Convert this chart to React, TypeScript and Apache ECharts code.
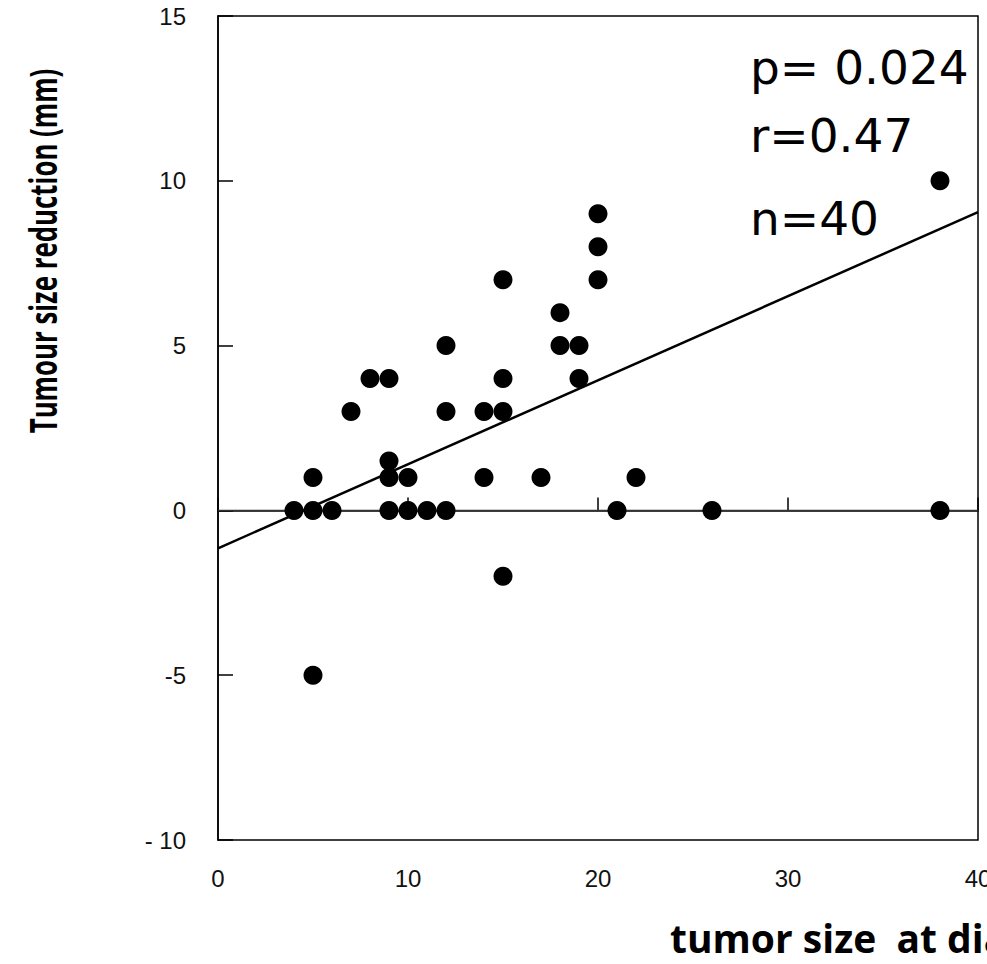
import React, { useEffect, useRef } from "react";
import * as echarts from "echarts";

const tumorSize: number[] = [4, 5, 5, 6, 5, 7, 8, 9, 9, 9, 9, 10, 10, 11, 12, 12, 12, 14, 14, 15, 15, 15, 15, 17, 18, 18, 19, 19, 20, 20, 20, 21, 22, 26, 38, 38];
const reduction: number[] = [0, 0, 1, 0, -5, 3, 4, 4, 1.5, 1, 0, 1, 0, 0, 0, 3, 5, 3, 1, 7, 4, 3, -2, 1, 6, 5, 5, 4, 9, 8, 7, 0, 1, 0, 10, 0];
const fitX: number[] = [0, 40];
const fitY: number[] = [-1.15, 9.05];
const zeroX: number[] = [0, 40];
const zeroY: number[] = [0, 0];
const statsLines: string[] = ["p= 0.024", "r=0.47", "n=40"];
const xTitle = "tumor size  at diagnosis";
const yTitle = "Tumour size reduction (mm)";

export default function App() {
  const ref = useRef<HTMLDivElement>(null);
  useEffect(() => {
    document.body.style.margin = "0";
    if (!ref.current) return;
    const chart = echarts.init(ref.current, undefined, { renderer: "svg" });
    const points = tumorSize.map((x, i) => [x, reduction[i]]);
    const fit = fitX.map((x, i) => [x, fitY[i]]);
    const zero = zeroX.map((x, i) => [x, zeroY[i]]);
    const statTop = [44, 112, 195];
    chart.setOption({
      animation: false,
      backgroundColor: "#fff",
      grid: {
        left: 218,
        top: 16,
        right: 9,
        bottom: 124,
        outerBoundsMode: "none",
        containLabel: false,
        show: true,
        borderColor: "#000",
        borderWidth: 1.5,
        backgroundColor: "transparent",
      },
      xAxis: {
        type: "value",
        min: 0,
        max: 40,
        interval: 10,
        splitLine: { show: false },
        axisLine: { show: true, lineStyle: { color: "#000", width: 1.5 } },
        axisTick: { show: true, inside: true, length: 13, lineStyle: { color: "#000", width: 1.5 } },
        axisLabel: {
          margin: 26,
          color: "#111",
          fontFamily: "Liberation Sans, Arial, sans-serif",
          fontSize: 24,
        },
      },
      yAxis: {
        type: "value",
        min: -10,
        max: 15,
        interval: 5,
        splitLine: { show: false },
        axisLine: { show: true, lineStyle: { color: "#000", width: 1.5 } },
        axisTick: { show: true, inside: true, length: 15, lineStyle: { color: "#000", width: 1.5 } },
        axisLabel: {
          margin: 32,
          color: "#111",
          fontFamily: "Liberation Sans, Arial, sans-serif",
          fontSize: 24,
          formatter: (v: number) => (v === -10 ? "- 10" : String(v)),
        },
      },
      series: [
        {
          type: "line",
          data: zero,
          symbol: "none",
          lineStyle: { color: "#333", width: 1.5 },
          z: 1,
        },
        {
          type: "line",
          data: fit,
          symbol: "none",
          lineStyle: { color: "#000", width: 2.5 },
          z: 2,
        },
        {
          type: "scatter",
          data: points,
          symbol: "circle",
          symbolSize: 19,
          itemStyle: { color: "#000", opacity: 1 },
          z: 3,
        },
      ],
      graphic: [
        ...statsLines.map((t, i) => ({
          type: "text",
          left: 750,
          top: statTop[i],
          style: {
            text: t,
            fill: "#000",
            font: "47px 'DejaVu Sans', sans-serif",
          },
        })),
        {
          type: "text",
          x: 42,
          y: 251,
          rotation: Math.PI / 2,
          scaleX: 0.68,
          style: {
            text: yTitle,
            fill: "#000",
            font: "bold 38px 'Open Sans', sans-serif",
            align: "center",
            verticalAlign: "middle",
          },
        },
        {
          type: "text",
          x: 670,
          y: 937,
          style: {
            text: xTitle,
            fill: "#000",
            font: "bold 39px 'Open Sans', sans-serif",
            align: "left",
            verticalAlign: "middle",
          },
        },
      ],
    });
    return () => chart.dispose();
  }, []);
  return <div ref={ref} style={{ width: 987, height: 964 }} />;
}
